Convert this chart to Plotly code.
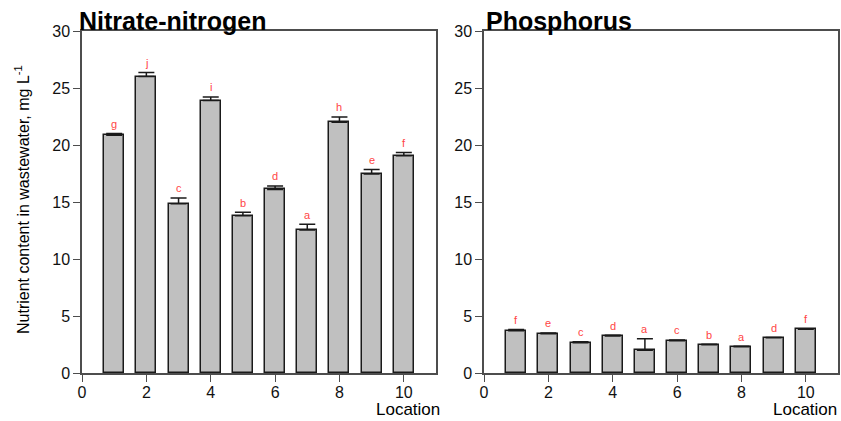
import plotly.graph_objects as go

# Data
locations = [1, 2, 3, 4, 5, 6, 7, 8, 9, 10]

nitrate = [20.85, 26.0, 14.85, 23.9, 13.8, 16.1, 12.55, 22.0, 17.45, 19.05]
nitrate_err = [0.15, 0.35, 0.5, 0.3, 0.3, 0.3, 0.5, 0.45, 0.4, 0.3]
nitrate_letters = ["g", "j", "c", "i", "b", "d", "a", "h", "e", "f"]

phosphorus = [3.7, 3.45, 2.65, 3.25, 2.0, 2.83, 2.47, 2.3, 3.1, 3.83]
phosphorus_err = [0.12, 0.05, 0.1, 0.06, 1.0, 0.07, 0.05, 0.04, 0.02, 0.05]
phosphorus_letters = ["f", "e", "c", "d", "a", "c", "b", "a", "d", "f"]

x_ticks = [0, 2, 4, 6, 8, 10]
y_ticks = [0, 5, 10, 15, 20, 25, 30]

W, H = 841, 421
FONT = "Liberation Sans, Arial, sans-serif"
AXIS_COLOR = "#4d4d4d"


def px_x(p):
    return p / W


def px_y(p):
    return 1 - p / H


def add_panel(fig, values, errors, letters, xaxis, yaxis):
    """Add one bar panel with one-sided error bars and letter labels."""
    fig.add_trace(
        go.Bar(
            x=locations,
            y=values,
            width=0.62,
            marker=dict(color="#c0c0c0", line=dict(color="#1a1a1a", width=1.5)),
            error_y=dict(
                type="data",
                symmetric=False,
                array=errors,
                arrayminus=[0] * len(errors),
                color="#1a1a1a",
                thickness=1.5,
                width=8,
            ),
            xaxis=xaxis,
            yaxis=yaxis,
            showlegend=False,
            hoverinfo="skip",
        )
    )
    for loc, v, e, lab in zip(locations, values, errors, letters):
        fig.add_annotation(
            x=loc,
            y=v + e + 0.85,
            xref=xaxis,
            yref=yaxis,
            text=lab,
            showarrow=False,
            font=dict(family=FONT, size=11, color="#ff4545"),
            yanchor="middle",
        )


fig = go.Figure()
add_panel(fig, nitrate, nitrate_err, nitrate_letters, "x", "y")
add_panel(fig, phosphorus, phosphorus_err, phosphorus_letters, "x2", "y2")

axis_common = dict(
    showline=True,
    mirror=True,
    linecolor=AXIS_COLOR,
    linewidth=1.5,
    ticks="outside",
    ticklen=7,
    tickcolor=AXIS_COLOR,
    tickwidth=1.2,
    showgrid=False,
    zeroline=False,
    tickfont=dict(family=FONT, size=16, color="#111"),
)

y_domain = [px_y(373), px_y(31)]

fig.update_layout(
    width=W,
    height=H,
    margin=dict(l=0, r=0, t=0, b=0, autoexpand=False),
    paper_bgcolor="white",
    plot_bgcolor="white",
    bargap=0,
    xaxis=dict(domain=[px_x(82), px_x(436)], range=[0, 11], tickvals=x_ticks, anchor="y",
               ticklabelstandoff=-3, **axis_common),
    yaxis=dict(domain=y_domain, range=[0, 30], tickvals=y_ticks, anchor="x", **axis_common),
    xaxis2=dict(domain=[px_x(484), px_x(838)], range=[0, 11], tickvals=x_ticks, anchor="y2",
                ticklabelstandoff=-3, **axis_common),
    yaxis2=dict(domain=y_domain, range=[0, 30], tickvals=y_ticks, anchor="x2", **axis_common),
)

# Panel titles
for text, x0 in [("Nitrate-nitrogen", 77), ("Phosphorus", 484)]:
    fig.add_annotation(
        x=px_x(x0), y=px_y(31), xref="paper", yref="paper",
        text="<b>" + text + "</b>", showarrow=False,
        xanchor="left", yanchor="bottom", yshift=-6,
        font=dict(family=FONT, size=25, color="black"),
    )

# x-axis titles
for x1 in [442, 839]:
    fig.add_annotation(
        x=px_x(x1), y=0, xref="paper", yref="paper",
        text="Location", showarrow=False,
        xanchor="right", yanchor="bottom",
        font=dict(family=FONT, size=17, color="black"),
    )

# y-axis title
fig.add_annotation(
    x=px_x(22), y=px_y(200), xref="paper", yref="paper",
    text="Nutrient content in wastewater, mg L<sup>-1</sup>",
    showarrow=False, textangle=-90,
    xanchor="center", yanchor="middle",
    font=dict(family=FONT, size=16, color="black"),
)

# drop the default page margin so the figure fills the window exactly
fig.write_html(
    "out.html",
    config={"displayModeBar": False},
    post_script="document.body.style.margin='0';document.body.style.overflow='hidden';",
)
